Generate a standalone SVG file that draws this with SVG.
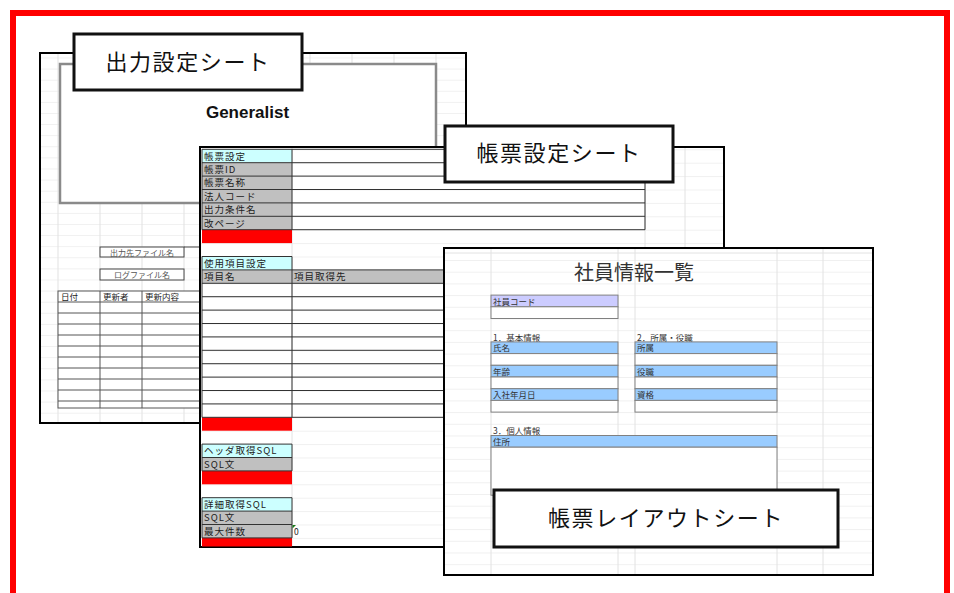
<svg xmlns="http://www.w3.org/2000/svg" width="954" height="593" viewBox="0 0 954 593">
<style>
text{font-family:"Noto Sans CJK JP","Noto Sans",sans-serif;}
.grid{stroke:#e2e2e2;stroke-width:1;fill:none;}
.sheet{fill:#fff;stroke:#000;stroke-width:2;}
.title{fill:#fff;stroke:#111;stroke-width:3;}
.ttl{font-size:22px;letter-spacing:1.6px;fill:#111;text-anchor:middle;}
.cell{stroke:#333;stroke-width:1;}
.lbl{font-size:9.5px;letter-spacing:1px;fill:#222;}
.s3{font-size:8.5px;fill:#333;}
.s1{font-size:8px;fill:#555;}
.cy{fill:#ccffff;}
.gy{fill:#c0c0c0;}
.rd{fill:#ff0000;}
.bl{fill:#99ccff;stroke:#808080;stroke-width:1;}
.wb{fill:#fff;stroke:#808080;stroke-width:1;}
</style>
<defs>
<pattern id="g1" x="0" y="57.5" width="42" height="11.1" patternUnits="userSpaceOnUse">
<path d="M0 0H42M16 0V11.1" stroke="#e2e2e2" stroke-width="1" fill="none"/>
</pattern>
<pattern id="g2" x="0" y="149.3" width="954" height="13.4" patternUnits="userSpaceOnUse">
<path d="M0 0H954" stroke="#e2e2e2" stroke-width="1" fill="none"/>
</pattern>
<pattern id="g3" x="0" y="260" width="954" height="11.7" patternUnits="userSpaceOnUse">
<path d="M0 0H954" stroke="#e2e2e2" stroke-width="1" fill="none"/>
</pattern>
</defs>

<!-- red frame -->
<rect x="13" y="13" width="934" height="600" fill="none" stroke="#ff0000" stroke-width="6"/>

<!-- Sheet 1: 出力設定シート -->
<g id="sheet-output">
<rect class="sheet" x="40" y="53" width="426" height="370"/>
<rect x="41" y="54" width="424" height="368" fill="url(#g1)"/>
<rect x="60" y="64" width="376" height="139" fill="#fff" stroke="#8a8a8a" stroke-width="2.5"/>
<text x="247.5" y="118" font-family="Liberation Sans,Arial,sans-serif" style="font-family:'Liberation Sans',Arial,sans-serif" font-size="17" font-weight="bold" fill="#111" text-anchor="middle">Generalist</text>
<rect x="100" y="247" width="84" height="10" fill="#fff" stroke="#444"/>
<line x1="184" y1="247" x2="200" y2="247" stroke="#444"/>
<text class="s1" x="142" y="255.5" text-anchor="middle">出力先ファイル名</text>
<rect x="100" y="269" width="84" height="11" fill="#fff" stroke="#444"/>
<text class="s1" x="142" y="278" text-anchor="middle">ログファイル名</text>
<g stroke="#555" stroke-width="1" fill="none">
<rect x="58" y="291" width="150" height="117" fill="#fff"/>
<path d="M58 302H208M58 313H208M58 324H208M58 335H208M58 346H208M58 357H208M58 368H208M58 379H208M58 390H208M58 401H208"/>
<path d="M100 291V408M142 291V408"/>
</g>
<text x="61" y="300" font-size="8.5" fill="#222">日付</text>
<text x="103" y="300" font-size="8.5" fill="#222">更新者</text>
<text x="145" y="300" font-size="8.5" fill="#222">更新内容</text>
</g>

<!-- Sheet 2: 帳票設定シート -->
<g id="sheet-report">
<rect class="sheet" x="200" y="147" width="524" height="400"/>
<rect x="201" y="148" width="522" height="398" fill="url(#g2)"/>
<path class="grid" d="M645 148V546M685 148V546M292 148V546"/>
<!-- fills -->
<rect class="cy" x="202" y="149.3" width="90" height="13.4"/>
<rect class="gy" x="202" y="162.7" width="90" height="67"/>
<rect class="rd" x="202" y="229.7" width="90" height="13.4"/>
<rect class="cy" x="202" y="256.5" width="90" height="13.4"/>
<rect class="gy" x="202" y="269.9" width="250" height="13.4"/>
<rect class="rd" x="202" y="417.3" width="90" height="13.4"/>
<rect class="cy" x="202" y="444.1" width="90" height="13.4"/>
<rect class="gy" x="202" y="457.5" width="90" height="13.4"/>
<rect class="rd" x="202" y="470.9" width="90" height="13.4"/>
<rect class="cy" x="202" y="497.7" width="90" height="13.4"/>
<rect class="gy" x="202" y="511.1" width="90" height="26.8"/>
<rect class="rd" x="202" y="537.9" width="90" height="8.6"/>
<!-- borders -->
<g class="cell" fill="none">
<path d="M202 149.3H645M202 162.7H645M202 176.1H645M202 189.5H645M202 202.9H645M202 216.3H645M202 229.7H645M202 149.3V229.7M292 149.3V229.7M645 149.3V229.7"/>
<path d="M202 256.5H292M202 269.9H452M202 283.3H452M202 296.7H452M202 310.1H452M202 323.5H452M202 336.9H452M202 350.3H452M202 363.7H452M202 377.1H452M202 390.5H452M202 403.9H452M202 417.3H452M202 256.5V417.3M292 256.5V417.3"/>
<path d="M202 444.1H292M202 457.5H292M202 470.9H292M202 444.1V470.9M292 444.1V470.9"/>
<path d="M202 497.7H292M202 511.1H292M202 524.5H292M202 537.9H292M202 497.7V537.9M292 497.7V537.9"/>
</g>
<text class="lbl" x="204" y="159.5">帳票設定</text>
<text class="lbl" x="204" y="172.9">帳票ID</text>
<text class="lbl" x="204" y="186.3">帳票名称</text>
<text class="lbl" x="204" y="199.7">法人コード</text>
<text class="lbl" x="204" y="213.1">出力条件名</text>
<text class="lbl" x="204" y="226.5">改ページ</text>
<text class="lbl" x="204" y="266.7">使用項目設定</text>
<text class="lbl" x="204" y="280.1">項目名</text>
<text class="lbl" x="294" y="280.1">項目取得先</text>
<text class="lbl" x="204" y="454.3">ヘッダ取得SQL</text>
<text class="lbl" x="204" y="467.7">SQL文</text>
<text class="lbl" x="204" y="507.9">詳細取得SQL</text>
<text class="lbl" x="204" y="521.3">SQL文</text>
<text class="lbl" x="204" y="534.7">最大件数</text>
<text x="294" y="534.7" font-size="8.5" fill="#222">0</text>
<path d="M292.5 525V528.5L296 525Z" fill="#1a7a1a"/>
</g>

<!-- Sheet 3: 帳票レイアウトシート -->
<g id="sheet-layout">
<rect class="sheet" x="444" y="248" width="429" height="327"/>
<rect x="445" y="249" width="427" height="325" fill="url(#g3)"/>
<path class="grid" d="M445 253H872M491 249V574M618 249V574M635 249V574M777 249V574M823 249V574"/>
<text x="634" y="280" font-size="20" fill="#333" text-anchor="middle">社員情報一覧</text>
<rect x="491" y="295.1" width="127" height="11.7" fill="#ccccff" stroke="#808080"/>
<rect class="wb" x="491" y="306.8" width="127" height="11.7"/>
<text class="s3" x="493" y="304.5">社員コード</text>
<text class="s3" x="493" y="340.5">1．基本情報</text>
<text class="s3" x="637" y="340.5">2．所属・役職</text>
<rect class="bl" x="491" y="341.9" width="127" height="11.7"/>
<rect class="wb" x="491" y="353.6" width="127" height="11.7"/>
<rect class="bl" x="491" y="365.3" width="127" height="11.7"/>
<rect class="wb" x="491" y="377" width="127" height="11.7"/>
<rect class="bl" x="491" y="388.7" width="127" height="11.7"/>
<rect class="wb" x="491" y="400.4" width="127" height="11.7"/>
<rect class="bl" x="635" y="341.9" width="142" height="11.7"/>
<rect class="wb" x="635" y="353.6" width="142" height="11.7"/>
<rect class="bl" x="635" y="365.3" width="142" height="11.7"/>
<rect class="wb" x="635" y="377" width="142" height="11.7"/>
<rect class="bl" x="635" y="388.7" width="142" height="11.7"/>
<rect class="wb" x="635" y="400.4" width="142" height="11.7"/>
<text class="s3" x="493" y="351.3">氏名</text>
<text class="s3" x="493" y="374.7">年齢</text>
<text class="s3" x="493" y="398.1">入社年月日</text>
<text class="s3" x="637" y="351.3">所属</text>
<text class="s3" x="637" y="374.7">役職</text>
<text class="s3" x="637" y="398.1">資格</text>
<text class="s3" x="493" y="433.5">3．個人情報</text>
<rect class="bl" x="491" y="435.5" width="286" height="11.7"/>
<rect class="wb" x="491" y="447.2" width="286" height="48"/>
<text class="s3" x="493" y="445">住所</text>
</g>

<!-- Title labels -->
<g id="label-output">
<rect class="title" x="74" y="34" width="228" height="56"/>
<text class="ttl" x="188" y="70">出力設定シート</text>
</g>
<g id="label-report">
<rect class="title" x="445" y="126" width="228" height="56"/>
<text class="ttl" x="559" y="161">帳票設定シート</text>
</g>
<g id="label-layout">
<rect class="title" x="494" y="490" width="344" height="57"/>
<text class="ttl" x="666" y="526">帳票レイアウトシート</text>
</g>
</svg>
